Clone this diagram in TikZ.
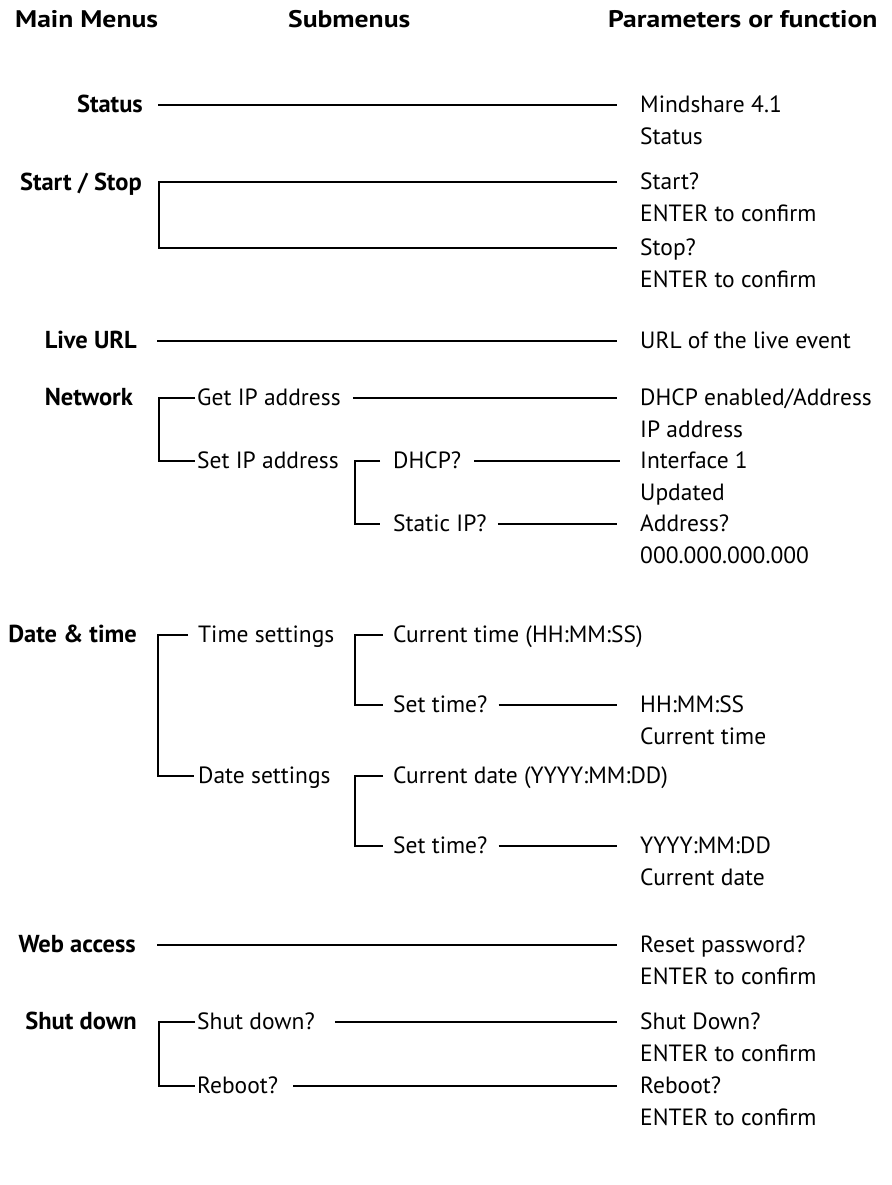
\documentclass[tikz,border=0pt]{standalone}
\usepackage{fontspec}
\setmainfont{PT Sans}
\newfontfamily\hdfont{PT Sans}[FakeStretch=1.15]
\begin{document}
\begin{tikzpicture}[x=1pt,y=-1pt,
  txt/.style={inner sep=0pt, anchor=west, text height=15pt, text depth=0pt, font=\fontsize{23.5}{26}\selectfont},
  mm/.style={txt, anchor=east, font=\fontsize{24.5}{26}\selectfont\bfseries},
  hd/.style={txt, font=\hdfont\fontsize{24}{26}\selectfont\bfseries},
  ln/.style={line width=2.7pt}]
\useasboundingbox (0,0) rectangle (891,1185);
% headers
\node[hd] (h1) at (15,20) {Main Menus};
\node[hd] (h2) at (288,20) {Submenus};
\node[hd] (h3) at (608,20) {Parameters or function};
% Status
\node[mm] (status) at (143,105) {Status};
\node[txt] (p1a) at (640,105) {Mindshare 4.1};
\node[txt] (p1b) at (640,137) {Status};
\coordinate (c1) at (158,105);
\draw[ln] (c1) -- ([xshift=-23pt]p1a.west);
% Start / Stop
\node[mm] (ss) at (142,183) {Start / Stop};
\node[txt] (p2a) at (640,182) {Start?};
\node[txt] (p2b) at (640,214) {ENTER to confirm};
\node[txt] (p2c) at (640,248) {Stop?};
\node[txt] (p2d) at (640,280) {ENTER to confirm};
\coordinate (b2) at (159,248);
\draw[ln] ([xshift=-23pt]p2a.west) -| (b2) -- ([xshift=-23pt]p2c.west);
% Live URL
\node[mm] (live) at (137,341) {Live URL};
\node[txt] (p3) at (640,341) {URL of the live event};
\coordinate (c3) at (157,341);
\draw[ln] (c3) -- ([xshift=-23pt]p3.west);
% Network
\node[mm] (net) at (133,398) {Network};
\node[txt] (getip) at (197,398) {Get IP address};
\node[txt] (setip) at (197,461) {Set IP address};
\node[txt] (dhcp) at (393,461) {DHCP?};
\node[txt] (stat) at (393,524) {Static IP?};
\node[txt] (p4a) at (640,398) {DHCP enabled/Address};
\node[txt] (p4b) at (640,430) {IP address};
\node[txt] (p4c) at (640,461) {Interface 1};
\node[txt] (p4d) at (640,493) {Updated};
\node[txt] (p4e) at (640,524) {Address?};
\node[txt] (p4f) at (640,556) {000.000.000.000};
\coordinate (b4) at (159,461);
\draw[ln] ([xshift=-2pt]getip.west) -| (b4) -- ([xshift=-2pt]setip.west);
\coordinate (b4s) at (355,524);
\draw[ln] ([xshift=-13pt]dhcp.west) -| (b4s) -- ([xshift=-13pt]stat.west);
\draw[ln] ([xshift=12pt]getip.east) -- ([xshift=-23pt]p4a.west);
\draw[ln] ([xshift=13pt]dhcp.east) -- ([xshift=-20pt]p4c.west);
\draw[ln] ([xshift=11pt]stat.east) -- ([xshift=-23pt]p4e.west);
% Date & time
\node[mm] (dt) at (137,635) {Date \& time};
\node[txt] (tset) at (198,635) {Time settings};
\node[txt] (dset) at (198,776) {Date settings};
\node[txt] (ctime) at (393,635) {Current time (HH:MM:SS)};
\node[txt] (stime) at (393,705) {Set time?};
\node[txt] (p5a) at (640,705) {HH:MM:SS};
\node[txt] (p5b) at (640,737) {Current time};
\node[txt] (cdate) at (393,776) {Current date (YYYY:MM:DD)};
\node[txt] (sdate) at (393,846) {Set time?};
\node[txt] (p5c) at (640,846) {YYYY:MM:DD};
\node[txt] (p5d) at (640,878) {Current date};
\coordinate (b5) at (158,776);
\draw[ln] ([xshift=-10pt]tset.west) -| (b5) -- ([xshift=-4pt]dset.west);
\coordinate (b5t) at (355,705);
\draw[ln] ([xshift=-10pt]ctime.west) -| (b5t) -- ([xshift=-10pt]stime.west);
\coordinate (b5d) at (355,846);
\draw[ln] ([xshift=-10pt]cdate.west) -| (b5d) -- ([xshift=-10pt]sdate.west);
\draw[ln] ([xshift=11pt]stime.east) -- ([xshift=-23pt]p5a.west);
\draw[ln] ([xshift=11pt]sdate.east) -- ([xshift=-23pt]p5c.west);
% Web access
\node[mm] (web) at (136,945) {Web access};
\node[txt] (p6a) at (640,945) {Reset password?};
\node[txt] (p6b) at (640,977) {ENTER to confirm};
\coordinate (c6) at (157,945);
\draw[ln] (c6) -- ([xshift=-23pt]p6a.west);
% Shut down
\node[mm] (sd) at (137,1022) {Shut down};
\node[txt] (sdq) at (197,1022) {Shut down?};
\node[txt] (rbq) at (197,1086) {Reboot?};
\node[txt] (p7a) at (640,1022) {Shut Down?};
\node[txt] (p7b) at (640,1054) {ENTER to confirm};
\node[txt] (p7c) at (640,1086) {Reboot?};
\node[txt] (p7d) at (640,1118) {ENTER to confirm};
\coordinate (b7) at (159,1086);
\draw[ln] ([xshift=-2pt]sdq.west) -| (b7) -- ([xshift=-2pt]rbq.west);
\draw[ln] ([xshift=20pt]sdq.east) -- ([xshift=-23pt]p7a.west);
\draw[ln] ([xshift=15pt]rbq.east) -- ([xshift=-23pt]p7c.west);
\end{tikzpicture}
\end{document}
